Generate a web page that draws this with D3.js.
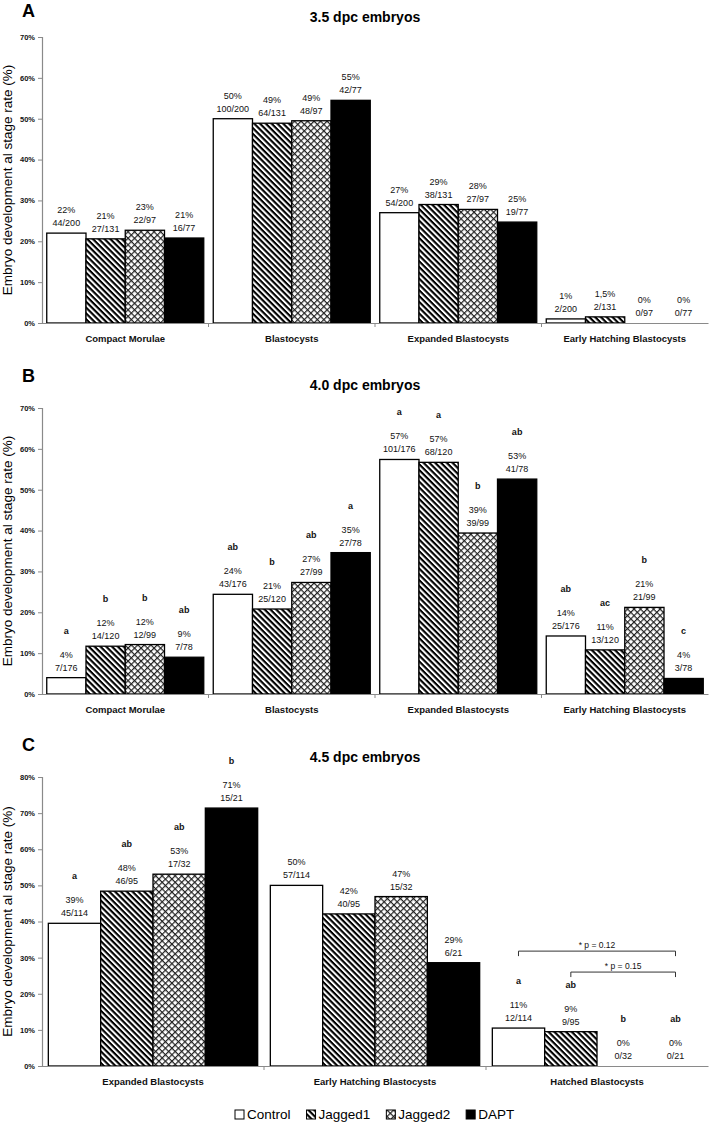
<!DOCTYPE html>
<html><head><meta charset="utf-8">
<script src="https://cdn.jsdelivr.net/npm/d3@7"></script>
<style>
html,body{margin:0;padding:0;background:#fff;}
svg{display:block;font-family:"Liberation Sans",Arial,sans-serif;}
</style></head>
<body><svg id="chart" width="709" height="1123"></svg>
<script>
// ---------- DATA ----------
const groups = ["Control", "Jagged1", "Jagged2", "DAPT"];

const catsA = ["Compact Morulae", "Blastocysts", "Expanded Blastocysts", "Early Hatching Blastocysts"];
const valsA = [[22, 20.6, 22.7, 20.8], [50, 48.9, 49.5, 54.5], [27, 29, 27.8, 24.7], [1, 1.5, 0, 0]];
const pctA  = [["22%","21%","23%","21%"], ["50%","49%","49%","55%"], ["27%","29%","28%","25%"], ["1%","1,5%","0%","0%"]];
const fracA = [["44/200","27/131","22/97","16/77"], ["100/200","64/131","48/97","42/77"], ["54/200","38/131","27/97","19/77"], ["2/200","2/131","0/97","0/77"]];

const catsB = ["Compact Morulae", "Blastocysts", "Expanded Blastocysts", "Early Hatching Blastocysts"];
const valsB = [[4, 11.7, 12.1, 9], [24.4, 20.8, 27.3, 34.6], [57.4, 56.7, 39.4, 52.6], [14.2, 10.8, 21.2, 3.8]];
const pctB  = [["4%","12%","12%","9%"], ["24%","21%","27%","35%"], ["57%","57%","39%","53%"], ["14%","11%","21%","4%"]];
const fracB = [["7/176","14/120","12/99","7/78"], ["43/176","25/120","27/99","27/78"], ["101/176","68/120","39/99","41/78"], ["25/176","13/120","21/99","3/78"]];
const lettersB = [["a","b","b","ab"], ["ab","b","ab","a"], ["a","a","b","ab"], ["ab","ac","b","c"]];

const catsC = ["Expanded Blastocysts", "Early Hatching Blastocysts", "Hatched Blastocysts"];
const valsC = [[39.5, 48.4, 53.1, 71.4], [50, 42.1, 46.9, 28.6], [10.5, 9.5, 0, 0]];
const pctC  = [["39%","48%","53%","71%"], ["50%","42%","47%","29%"], ["11%","9%","0%","0%"]];
const fracC = [["45/114","46/95","17/32","15/21"], ["57/114","40/95","15/32","6/21"], ["12/114","9/95","0/32","0/21"]];
const lettersC = [["a","ab","ab","b"], ["","","",""], ["a","ab","b","ab"]];
// significance brackets in panel C: category, from group, to group, level (%), text
const bracketsC = [
  {cat: "Hatched Blastocysts", from: "Control", to: "DAPT", level: 31.8, text: "* p = 0.12"},
  {cat: "Hatched Blastocysts", from: "Jagged1", to: "DAPT", level: 26, text: "* p = 0.15"}
];

const ticksAB = [0, 10, 20, 30, 40, 50, 60, 70];
const ticksC  = [0, 10, 20, 30, 40, 50, 60, 70, 80];

const panelLetters = ["A", "B", "C"];
const titles = ["3.5 dpc embryos", "4.0 dpc embryos", "4.5 dpc embryos"];
const yLabel = "Embryo development al stage rate (%)";

// ---------- DRAW ----------
const svg = d3.select("#chart");
const defs = svg.append("defs");
const TXT = "#111";

// stripes "\" for Jagged1
const p1 = defs.append("pattern").attr("id", "pStripe").attr("patternUnits", "userSpaceOnUse")
  .attr("width", 4.1).attr("height", 4.1).attr("patternTransform", "rotate(45)");
p1.append("rect").attr("width", 4.1).attr("height", 4.1).attr("fill", "#fff");
p1.append("rect").attr("width", 4.1).attr("height", 2.1).attr("fill", "#000");
// crosshatch diamonds for Jagged2
const p2 = defs.append("pattern").attr("id", "pCross").attr("patternUnits", "userSpaceOnUse")
  .attr("width", 4.6).attr("height", 4.6).attr("patternTransform", "rotate(45)");
p2.append("rect").attr("width", 4.6).attr("height", 4.6).attr("fill", "#fff");
p2.append("rect").attr("width", 4.6).attr("height", 1.2).attr("fill", "#222");
p2.append("rect").attr("width", 1.2).attr("height", 4.6).attr("fill", "#222");

const fills = {Control: "#fff", Jagged1: "url(#pStripe)", Jagged2: "url(#pCross)", DAPT: "#000"};

const X0 = 42, X1 = 708;

function drawPanel(o) {
  const g = svg.append("g");
  const x0 = d3.scaleBand().domain(o.cats).range([X0, X1]).paddingInner(0.057).paddingOuter(0.0285);
  const x1 = d3.scaleBand().domain(groups).range([0, x0.bandwidth()]);
  const y = d3.scaleLinear().domain([0, o.max]).range([o.zero, o.top]);

  // panel letter and title
  g.append("text").attr("x", 22).attr("y", o.letterY).attr("font-size", 18).attr("font-weight", "bold")
    .attr("fill", "#000").text(o.letter);
  g.append("text").attr("x", 365).attr("y", o.titleY).attr("text-anchor", "middle")
    .attr("font-size", 14).attr("font-weight", "bold").attr("fill", "#000").text(o.title);

  // y axis
  const ya = g.append("g").attr("transform", `translate(${X0},0)`)
    .call(d3.axisLeft(y).tickValues(o.ticks).tickFormat(d => d + "%").tickSize(4).tickPadding(3));
  ya.select(".domain").attr("stroke", "#8a8a8a").attr("stroke-width", 1.2);
  ya.selectAll(".tick line").attr("stroke", "#8a8a8a");
  ya.selectAll(".tick text").attr("font-size", 7.5).attr("font-weight", "bold").attr("fill", TXT)
    .attr("font-family", "Liberation Sans, Arial, sans-serif");

  // y label
  g.append("text").attr("transform", `translate(12,${(o.zero + o.top) / 2}) rotate(-90)`)
    .attr("text-anchor", "middle").attr("font-size", 13.5).attr("fill", "#000").text(yLabel);

  // bars
  o.cats.forEach((c, ci) => {
    const cg = g.append("g").attr("transform", `translate(${x0(c)},0)`);
    groups.forEach((s, si) => {
      const v = o.vals[ci][si];
      const bx = x1(s), bw = x1.bandwidth();
      if (v > 0) {
        cg.append("rect").attr("x", bx).attr("y", y(v)).attr("width", bw).attr("height", y(0) - y(v))
          .attr("fill", fills[s]).attr("stroke", "#000").attr("stroke-width", 1.3);
      }
      const cx = bx + bw / 2;
      const l2 = y(v) - 7, l1 = l2 - 13;
      cg.append("text").attr("x", cx).attr("y", l1).attr("text-anchor", "middle").attr("font-size", 9)
        .attr("fill", TXT).text(o.pct[ci][si]);
      cg.append("text").attr("x", cx).attr("y", l2).attr("text-anchor", "middle").attr("font-size", 9)
        .attr("fill", TXT).text(o.frac[ci][si]);
      if (o.letters && o.letters[ci][si]) {
        cg.append("text").attr("x", cx).attr("y", l1 - 24).attr("text-anchor", "middle").attr("font-size", 9)
          .attr("font-weight", "bold").attr("fill", TXT).text(o.letters[ci][si]);
      }
    });
  });

  // x axis
  const xa = g.append("g").attr("transform", `translate(0,${o.zero})`)
    .call(d3.axisBottom(x0).tickSize(0).tickPadding(12));
  xa.select(".domain").attr("stroke", "#8a8a8a").attr("stroke-width", 1.2);
  xa.selectAll(".tick text").attr("font-size", 9.5).attr("font-weight", "bold").attr("fill", TXT)
    .attr("font-family", "Liberation Sans, Arial, sans-serif");
  const half = x0.step() * x0.paddingInner() / 2;
  o.cats.slice(1).forEach(c => {
    g.append("line").attr("x1", x0(c) - half).attr("x2", x0(c) - half)
      .attr("y1", o.zero).attr("y2", o.zero + 4).attr("stroke", "#8a8a8a");
  });

  // brackets
  (o.brackets || []).forEach(b => {
    const xa1 = x0(b.cat) + x1(b.from) + x1.bandwidth() / 2;
    const xa2 = x0(b.cat) + x1(b.to) + x1.bandwidth() / 2;
    const by = y(b.level);
    g.append("path").attr("d", `M${xa1},${by + 5}V${by}H${xa2}V${by + 5}`)
      .attr("fill", "none").attr("stroke", "#333").attr("stroke-width", 1);
    g.append("text").attr("x", (xa1 + xa2) / 2).attr("y", by - 3).attr("text-anchor", "middle")
      .attr("font-size", 8.5).attr("fill", TXT).text(b.text);
  });
}

drawPanel({letter: panelLetters[0], title: titles[0], letterY: 17, titleY: 22, cats: catsA, vals: valsA,
  pct: pctA, frac: fracA, max: 70, ticks: ticksAB, zero: 323, top: 37});
drawPanel({letter: panelLetters[1], title: titles[1], letterY: 382, titleY: 390, cats: catsB, vals: valsB,
  pct: pctB, frac: fracB, letters: lettersB, max: 70, ticks: ticksAB, zero: 694, top: 408});
drawPanel({letter: panelLetters[2], title: titles[2], letterY: 751, titleY: 762, cats: catsC, vals: valsC,
  pct: pctC, frac: fracC, letters: lettersC, brackets: bracketsC, max: 80, ticks: ticksC, zero: 1066, top: 777});

// legend
const lg = svg.append("g");
let lx = 235;
groups.forEach(s => {
  lg.append("rect").attr("x", lx).attr("y", 1110).attr("width", 9).attr("height", 9)
    .attr("fill", fills[s]).attr("stroke", "#000").attr("stroke-width", 1);
  const t = lg.append("text").attr("x", lx + 12).attr("y", 1119).attr("font-size", 13.5).attr("fill", "#000").text(s);
  lx += 12 + t.node().getComputedTextLength() + 16;
});
</script></body></html>
